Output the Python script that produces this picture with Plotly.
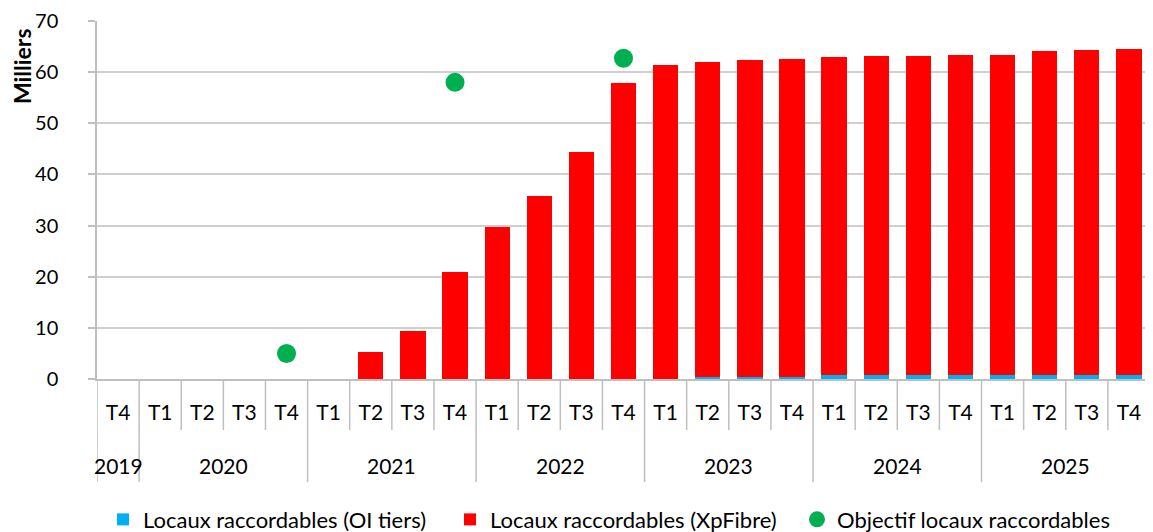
import plotly.graph_objects as go

years = ["2019"] + ["2020"] * 4 + ["2021"] * 4 + ["2022"] * 4 + ["2023"] * 4 + ["2024"] * 4 + ["2025"] * 4
quarters = ["T4"] + ["T1", "T2", "T3", "T4"] * 6

oi_tiers = [0, 0, 0, 0, 0, 0, 0, 0, 0, 0, 0, 0, 0, 0,
            0.3, 0.3, 0.3, 0.7, 0.7, 0.7, 0.7, 0.7, 0.7, 0.7, 0.7]
xpfibre = [0, 0, 0, 0, 0, 0, 5.3, 9.4, 20.9, 29.7, 35.8, 44.3, 57.9, 61.3,
           61.7, 62.0, 62.2, 62.2, 62.4, 62.5, 62.7, 62.7, 63.4, 63.7, 63.8]
objectif = [None, None, None, None, 5.0, None, None, None, 58.0, None, None, None, 62.7,
            None, None, None, None, None, None, None, None, None, None, None, None]

FONT = "Lato"
GREY = "#BFBFBF"
n = len(quarters)
xi = list(range(n))

fig = go.Figure()
fig.add_trace(go.Bar(x=xi, y=oi_tiers, name="Locaux raccordables (OI tiers)",
                     marker=dict(color="#00B0F0", line=dict(width=0))))
fig.add_trace(go.Bar(x=xi, y=xpfibre, name="Locaux raccordables (XpFibre)",
                     marker=dict(color="#FF0000", line=dict(width=0))))
fig.add_trace(go.Scatter(x=xi, y=objectif, name="Objectif locaux raccordables",
                         mode="markers", marker=dict(color="#00B050", size=19)))

# category boundaries: short ticks between quarters, long dividers between years
shapes = []
for b in range(n + 1):
    is_year_edge = b == 0 or b == n or years[b] != years[b - 1]
    shapes.append(dict(type="line", xref="x", yref="paper",
                       x0=b - 0.5, x1=b - 0.5, y0=0, y1=-0.288 if is_year_edge else -0.1425,
                       line=dict(color=GREY, width=1.5)))

# year labels centred under their group
annotations = []
start = 0
for i in range(1, n + 1):
    if i == n or years[i] != years[start]:
        annotations.append(dict(xref="x", yref="paper", x=(start + i - 1) / 2, y=-0.243,
                                text=years[start], showarrow=False, yanchor="middle",
                                font=dict(size=21, family=FONT, color="#000000")))
        start = i

# axis unit label, placed at the top of the value axis
annotations.append(dict(xref="paper", yref="paper", x=0, y=0.874, xshift=-75,
                        text="<b>Milliers</b>", textangle=-90, showarrow=False,
                        xanchor="center", yanchor="middle",
                        font=dict(size=23, family=FONT, color="#000000")))

# the page body adds an 8 px margin, so the figure is 8 px smaller than the window
fig.update_layout(
    barmode="stack",
    bargap=0.4,
    width=1145, height=524,
    margin=dict(l=89, r=3, t=13, b=153, autoexpand=False),
    plot_bgcolor="white", paper_bgcolor="white",
    font=dict(family=FONT, size=21, color="#000000"),
    showlegend=True,
    legend=dict(orientation="h", x=0.5, xanchor="center", y=-0.334, yanchor="top",
                font=dict(size=22, family=FONT), traceorder="normal",
                entrywidth=302, entrywidthmode="pixels"),
    shapes=shapes,
    annotations=annotations,
    xaxis=dict(range=[-0.5, n - 0.5], showgrid=False, zeroline=False, showline=True,
               linecolor=GREY, linewidth=1.5, automargin=False,
               tickmode="array", tickvals=xi, ticktext=quarters,
               ticks="outside", ticklen=14, tickcolor="rgba(0,0,0,0)",
               tickfont=dict(size=21, family=FONT)),
    yaxis=dict(range=[0, 70], dtick=10, showgrid=True, gridcolor="#CFCFCF", gridwidth=1.5,
               zeroline=False, showline=True, linecolor=GREY, linewidth=1.5,
               automargin=False, ticklabeloverflow="allow",
               ticks="outside", ticklen=7, tickcolor=GREY, tickwidth=1.5,
               ticklabelstandoff=26,
               tickfont=dict(size=20, family=FONT)),
)

fig.write_html("out.html")
